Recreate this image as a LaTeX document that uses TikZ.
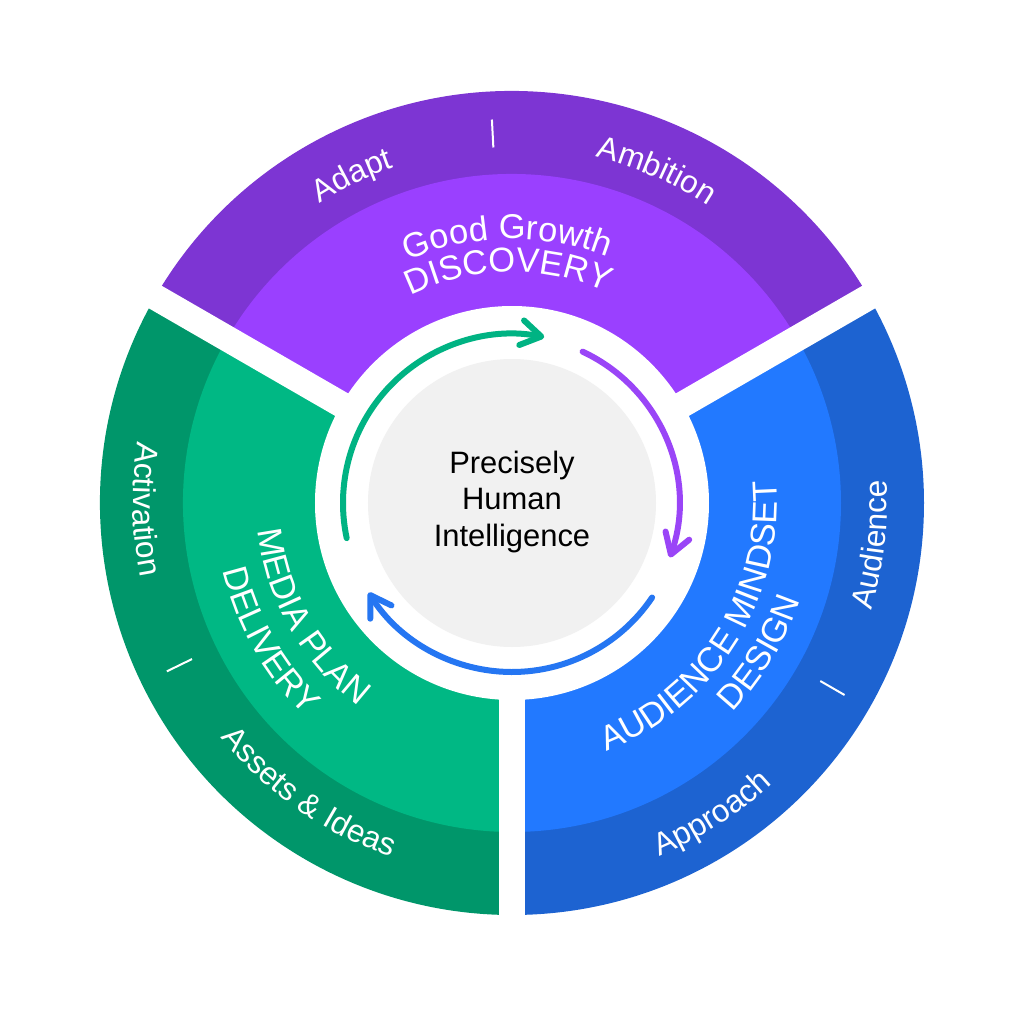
\documentclass[tikz,border=0pt]{standalone}
\usepackage{fontspec}
\setmainfont{Liberation Sans}
\usetikzlibrary{arrows.meta, decorations.text}

\definecolor{discoverydark}{HTML}{7D35D3}
\definecolor{discoverylight}{HTML}{9A40FF}
\definecolor{deliverydark}{HTML}{00966A}
\definecolor{deliverylight}{HTML}{00B884}
\definecolor{designdark}{HTML}{1D63D1}
\definecolor{designlight}{HTML}{2279FF}
\definecolor{coregray}{HTML}{F1F1F1}
\definecolor{turngreen}{HTML}{00B383}
\definecolor{turnpurple}{HTML}{9A45F7}
\definecolor{turnblue}{HTML}{2576F2}

\newcommand{\ringfont}{\fontsize{18pt}{21pt}\selectfont}
\newcommand{\headfont}{\fontsize{19.6pt}{23pt}\selectfont}
\newcommand{\corefont}{\fontsize{17.6pt}{21pt}\selectfont}

\begin{document}
\begin{tikzpicture}[x=0.02cm, y=0.02cm,
        gap/.style={white, line width=0.52cm},
        divider/.style={white, line width=0.04cm},
        turn/.style={line width=0.12cm, line cap=round, -{Straight Barb[length=0.4cm, width=0.5cm, round]}},
        arclabel/.style={decorate, decoration={text along path, text color=white, text align=center, text={#1}}}]

        \useasboundingbox (-512,-515) rectangle (512,503);

        % sectors
        \foreach \from/\dark/\light in {30/discoverydark/discoverylight, 150/deliverydark/deliverylight, 270/designdark/designlight} {
            \fill[\dark] (0,0) -- (\from:412) arc[start angle=\from, end angle=\from+120, radius=412] -- cycle;
            \fill[\light] (0,0) -- (\from:329) arc[start angle=\from, end angle=\from+120, radius=329] -- cycle;
        }
        \fill[white] (0,0) circle (197);
        \foreach \a in {30, 150, 270}
            \draw[gap] (0,0) -- (\a:440);

        % centre
        \fill[coregray] (0,0) circle (144);
        \node[align=center, font=\corefont, inner sep=0pt] (core) at (0,1) {Precisely\\Human\\Intelligence};

        % cycle
        \draw[turn, turngreen] (192:169) arc[start angle=192, end angle=79, radius=169];
        \draw[turn, turnpurple] (65:167) arc[start angle=65, end angle=-19, radius=167];
        \draw[turn, turnblue] (-34:169) arc[start angle=-34, end angle=-148, radius=169];

        % dividers
        \foreach \a in {93, 206, -30}
            \draw[divider] (\a:356) -- (\a:384);

        % section titles
        \begin{scope}
            \headfont
            \path[arclabel={Good Growth}] (141:264) arc[start angle=141, end angle=41, radius=264];
            \path[arclabel={DISCOVERY}] (141:231) arc[start angle=141, end angle=41, radius=231];
            \path[arclabel={MEDIA PLAN}] (164.5:255) arc[start angle=164.5, end angle=254.5, radius=255];
            \path[arclabel={DELIVERY}] (169.5:297) arc[start angle=169.5, end angle=249.5, radius=297];
            \path[arclabel={AUDIENCE MINDSET}] (-82.2:265) arc[start angle=-82.2, end angle=17.8, radius=265];
            \path[arclabel={DESIGN}] (-71:304) arc[start angle=-71, end angle=9, radius=304];
        \end{scope}

        % outer ring
        \begin{scope}
            \ringfont
            \path[arclabel={Adapt}] (146:356) arc[start angle=146, end angle=86, radius=356];
            \path[arclabel={Ambition}] (96.5:356) arc[start angle=96.5, end angle=36.5, radius=356];
            \path[arclabel={Activation}] (151:379) arc[start angle=151, end angle=211, radius=379];
            \path[arclabel={Assets {\&} Ideas}] (205:374) arc[start angle=205, end angle=265, radius=374];
            \path[arclabel={Audience}] (-36.6:375) arc[start angle=-36.6, end angle=23.4, radius=375];
            \path[arclabel={Approach}] (-87.2:383) arc[start angle=-87.2, end angle=-27.2, radius=383];
        \end{scope}

\end{tikzpicture}
\end{document}
